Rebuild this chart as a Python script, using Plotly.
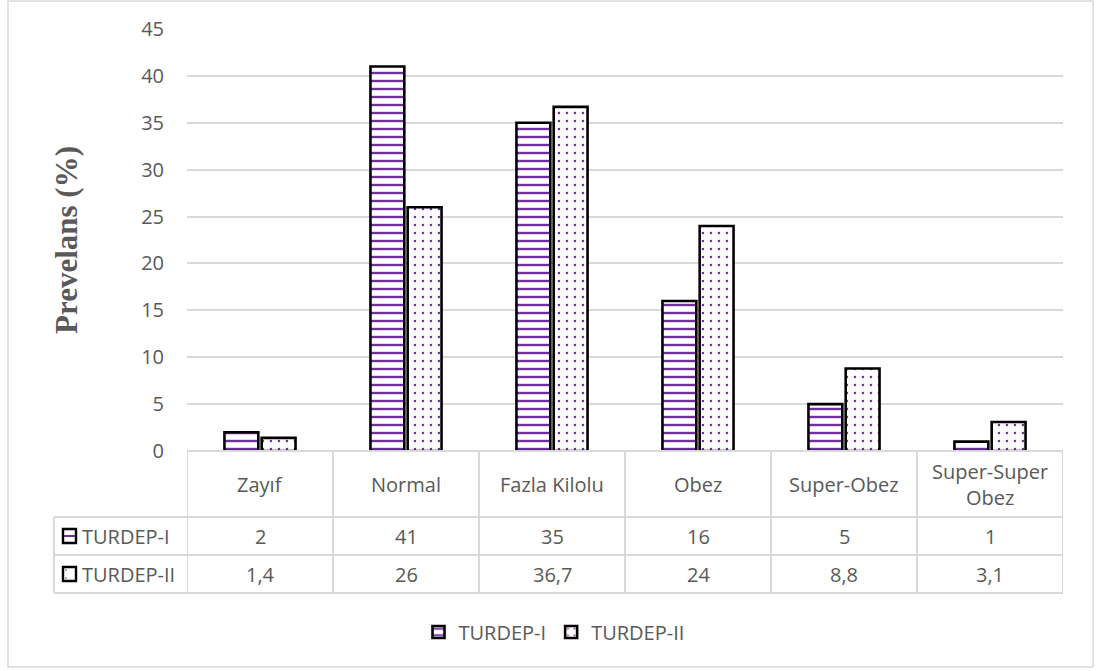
import plotly.graph_objects as go

categories = ["Zayıf", "Normal", "Fazla Kilolu", "Obez", "Super-Obez", "Super-Super<br>Obez"]
series_names = ["TURDEP-I", "TURDEP-II"]
turdep1 = [2, 41, 35, 16, 5, 1]
turdep2 = [1.4, 26, 36.7, 24, 8.8, 3.1]
y_ticks = [0, 5, 10, 15, 20, 25, 30, 35, 40, 45]
y_title = "Prevelans (%)"

PURPLE = "#7030A0"
GRID = "#d9d9d9"
TXT = "#595959"
FONT = "Open Sans"

# plot area in pixels
L, R, T, B = 187, 1063, 29, 451
W, H = R - L, B - T


def px(x):
    return (x - L) / W


def py(y):
    return (B - y) / H


def fmt(v):
    return format(v, "g").replace(".", ",")


fig = go.Figure()
fig.add_trace(go.Bar(
    x=categories, y=turdep1, name=series_names[0],
    marker=dict(color="white", line=dict(color="black", width=2.6),
                pattern=dict(shape="-", fgcolor=PURPLE, fgopacity=1, bgcolor="white", size=8, solidity=0.3,
                             fillmode="overlay")),
))
fig.add_trace(go.Bar(
    x=categories, y=turdep2, name=series_names[1],
    marker=dict(color="white", line=dict(color="black", width=2.6),
                pattern=dict(shape=".", fgcolor=PURPLE, fgopacity=1, bgcolor="white", size=8, solidity=0.08,
                             fillmode="overlay")),
))

shapes = []
ann = []
line = dict(color=GRID, width=2)
# outer border
shapes.append(dict(type="rect", xref="paper", yref="paper", x0=px(8), x1=px(1093), y0=py(667), y1=py(1),
                   line=dict(color=GRID, width=1.5), layer="below"))
# horizontal table lines
shapes.append(dict(type="line", xref="paper", yref="paper", x0=px(L), x1=px(R), y0=py(451), y1=py(451), line=line))
for yy in (517, 555, 593):
    shapes.append(dict(type="line", xref="paper", yref="paper", x0=px(54), x1=px(R), y0=py(yy), y1=py(yy), line=line))
# vertical table lines
for i in range(len(categories) + 1):
    shapes.append(dict(type="line", xref="x", yref="paper", x0=i - 0.5, x1=i - 0.5, y0=py(451), y1=py(593), line=line))
shapes.append(dict(type="line", xref="paper", yref="paper", x0=px(54), x1=px(54), y0=py(517), y1=py(593), line=line))

# category header labels and values
for i, c in enumerate(categories):
    ann.append(dict(x=c, xref="x", y=py(484), yref="paper", text=c, showarrow=False,
                    font=dict(family=FONT, size=20, color=TXT), yanchor="middle"))
    ann.append(dict(x=c, xref="x", y=py(536), yref="paper", text=fmt(turdep1[i]), showarrow=False,
                    font=dict(family=FONT, size=20, color=TXT), yanchor="middle"))
    ann.append(dict(x=c, xref="x", y=py(574), yref="paper", text=fmt(turdep2[i]), showarrow=False,
                    font=dict(family=FONT, size=20, color=TXT), yanchor="middle"))

# row labels with key markers
for name, yc in zip(series_names, (536, 574)):
    ann.append(dict(x=px(80), xref="paper", y=py(yc), yref="paper", text=name, showarrow=False,
                    xanchor="left", yanchor="middle", font=dict(family=FONT, size=20, color=TXT)))
    shapes.append(dict(type="rect", xref="paper", yref="paper", x0=px(63), x1=px(76), y0=py(yc - 7), y1=py(yc + 7),
                       line=dict(color="black", width=2.4), fillcolor="white"))
shapes.append(dict(type="line", xref="paper", yref="paper", x0=px(64), x1=px(75), y0=py(536), y1=py(536),
                   line=dict(color=PURPLE, width=2)))
for dx, dy in ((66, 570), (66, 578)):
    shapes.append(dict(type="circle", xref="paper", yref="paper", x0=px(dx - 0.8), x1=px(dx + 0.8),
                       y0=py(dy - 0.8), y1=py(dy + 0.8), line=dict(width=0), fillcolor=PURPLE))

# y-axis title
ann.append(dict(x=px(66), xref="paper", y=py(240), yref="paper", text="<b>" + y_title + "</b>", textangle=-90,
                showarrow=False, xanchor="center", yanchor="middle",
                font=dict(family="Liberation Serif", size=31, color=TXT)))

fig.update_layout(
    width=1096, height=671,
    margin=dict(l=L, r=1096 - R, t=T, b=671 - B),
    paper_bgcolor="white", plot_bgcolor="white",
    barmode="group", bargap=0.49, bargroupgap=0.09,
    shapes=shapes, annotations=ann,
    showlegend=True,
    legend=dict(orientation="h", x=px(554), xanchor="center", y=py(632), yanchor="middle",
                font=dict(family=FONT, size=20, color=TXT), itemwidth=30, traceorder="normal"),
    xaxis=dict(range=[-0.5, 5.5], showticklabels=False, showgrid=False, zeroline=False, showline=False, ticks=""),
    yaxis=dict(range=[0, 45], tickvals=y_ticks, showgrid=True, gridcolor=GRID, gridwidth=1.5, zeroline=False,
               showline=False, ticks="", ticklabelstandoff=22,
               tickfont=dict(family=FONT, size=20, color=TXT)),
)

fig.write_html("out.html")
